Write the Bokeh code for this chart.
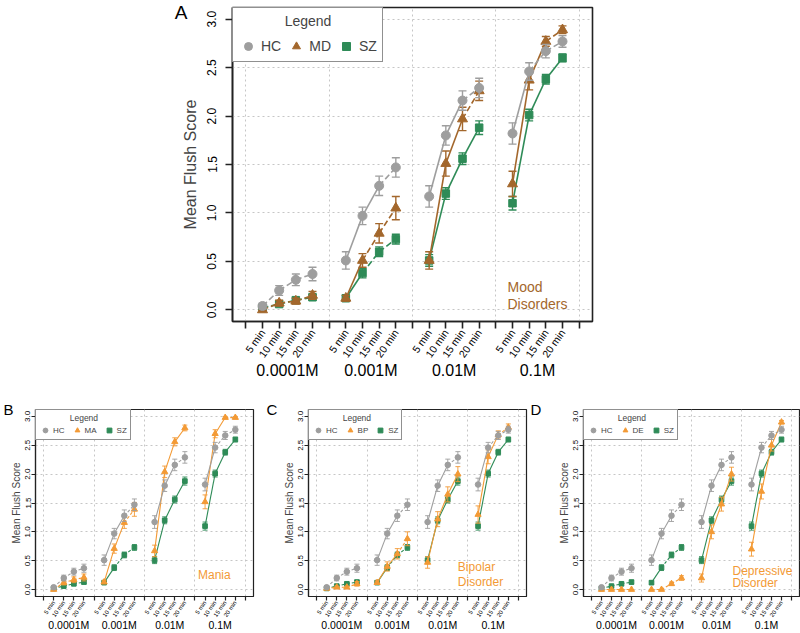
import math
from bokeh.plotting import figure
from bokeh.models import (Range1d, FixedTicker, LinearAxis, PrintfTickFormatter,
                          Legend, LegendItem, ColumnDataSource)
from bokeh.layouts import column, row
from bokeh.embed import file_html
from bokeh.resources import INLINE
from bokeh.core.properties import value

# ---------------- data ----------------
groups = ["0.0001M", "0.001M", "0.01M", "0.1M"]
times = ["5 min", "10 min", "15 min", "20 min"]
yticks = [0.0, 0.5, 1.0, 1.5, 2.0, 2.5, 3.0]

hc_mean = [0.04, 0.20, 0.31, 0.37, 0.51, 0.97, 1.28, 1.47, 1.17, 1.80, 2.16, 2.29, 1.82, 2.46, 2.67, 2.77]
hc_se   = [0.03, 0.05, 0.06, 0.07, 0.09, 0.09, 0.10, 0.10, 0.11, 0.10, 0.10, 0.10, 0.11, 0.09, 0.07, 0.06]
sz_mean = [0.02, 0.06, 0.10, 0.13, 0.12, 0.38, 0.60, 0.73, 0.51, 1.20, 1.56, 1.88, 1.10, 2.01, 2.38, 2.60]
sz_se   = [0.01, 0.02, 0.02, 0.03, 0.03, 0.05, 0.05, 0.05, 0.06, 0.06, 0.06, 0.07, 0.07, 0.06, 0.05, 0.04]
md_mean = [0.00, 0.07, 0.09, 0.15, 0.12, 0.51, 0.79, 1.05, 0.51, 1.51, 1.97, 2.26, 1.30, 2.37, 2.77, 2.89]
md_se   = [0.01, 0.03, 0.03, 0.04, 0.03, 0.07, 0.10, 0.12, 0.09, 0.13, 0.12, 0.10, 0.13, 0.10, 0.05, 0.04]
ma_mean = [0.00, 0.12, 0.17, 0.21, 0.13, 0.71, 1.16, 1.39, 0.67, 2.04, 2.56, 2.80, 1.52, 2.70, 2.98, 2.98]
ma_se   = [0.01, 0.04, 0.05, 0.06, 0.03, 0.08, 0.10, 0.12, 0.10, 0.10, 0.07, 0.05, 0.12, 0.07, 0.02, 0.02]
bp_mean = [0.02, 0.04, 0.04, 0.10, 0.12, 0.40, 0.62, 0.88, 0.47, 1.22, 1.65, 2.00, 1.30, 2.30, 2.68, 2.81]
bp_se   = [0.02, 0.02, 0.02, 0.04, 0.03, 0.08, 0.09, 0.12, 0.10, 0.13, 0.13, 0.13, 0.15, 0.12, 0.07, 0.06]
de_mean = [0.00, 0.00, 0.00, 0.00, 0.00, 0.00, 0.10, 0.20, 0.20, 1.00, 1.48, 2.00, 0.70, 1.70, 2.50, 2.90]
de_se   = [0.00, 0.00, 0.00, 0.00, 0.00, 0.00, 0.03, 0.04, 0.07, 0.12, 0.12, 0.12, 0.12, 0.13, 0.10, 0.03]

panel_letters = ["A", "B", "C", "D"]
legend_title = "Legend"

# ---------------- styles ----------------
GRAY, BROWN, GREEN, ORANGE = "#9E9E9E", "#A3672C", "#2E8B57", "#F39A35"
FONT = "Liberation Sans"
NBSP = "\u00a0"
# per-segment line type for each concentration group: s = solid, d = dashed
SEG = {
    "HC": ["ddd", "ssd", "ssd", "sdd"],
    "SZ": ["ddd", "sdd", "sss", "sss"],
    "MD": ["ddd", "sdd", "ssd", "ssd"],
    "MA": ["ddd", "ssd", "sss", "ssd"],
    "BP": ["ddd", "ssd", "sss", "ssd"],
    "DE": ["ddd", "ddd", "sss", "sss"],
}
X0, X1 = -0.8, 20.8
Y0, Y1 = -0.12, 3.12

BIG = dict(w=600, h=383, bl=232, br=8, bt=7, bb=62, ow=1.6, lw=1.6, ew=1.4, cap=8,
           dash="6 3", ms=1.0, to=7, tf="10.5px", ls=2, ang=55, gf="16px", gs=-5,
           ytf="12px", yst=9, ylf="16px", ylst=6,
           lg_pad=5, lg_gw=20, lg_gh=20, lg_sp=5, lg_st=3, lg_font="14px", lg_title="14px",
           lg_tst=7, lg_indent=12, nf="14px", letter="19px")
SMALL = dict(h=250, bt=26, bb=34, ow=1.2, lw=1.1, ew=0.9, cap=5,
             dash="3 2", ms=0.62, to=4, tf="6px", ls=1, ang=55, gf="10.5px", gs=-4,
             ytf="8px", yst=1, ylf="10px", ylst=1,
             lg_pad=3, lg_gw=12, lg_gh=12, lg_sp=6, lg_st=2, lg_font="8px", lg_title="8.5px",
             lg_tst=1, lg_indent=13, nf="12px", letter="15px")


def xpos():
    n = len(times) + 1
    return [g * n + t + 1 for g in range(len(groups)) for t in range(len(times))]


def letter_axis(S, text, standoff, drop_px):
    """A bare axis whose only tick label is the panel letter."""
    frame_h = S["h"] - S["bt"] - S["bb"]
    t = Y1 - drop_px * (Y1 - Y0) / frame_h
    return LinearAxis(ticker=FixedTicker(ticks=[t]), major_label_overrides={t: text},
                      major_tick_out=0, major_tick_in=0, minor_tick_line_color=None,
                      major_tick_line_color=None, axis_line_color=None,
                      major_label_standoff=standoff, major_label_text_font=FONT,
                      major_label_text_font_size=S["letter"], major_label_text_color="black")


def make_panel(S, series, notes):
    p = figure(width=S["w"], height=S["h"], x_range=Range1d(X0, X1), y_range=Range1d(Y0, Y1),
               output_backend="svg", toolbar_location=None,
               min_border_left=S["bl"], min_border_right=S["br"],
               min_border_top=S["bt"], min_border_bottom=S["bb"])
    p.background_fill_color = "white"
    p.border_fill_color = "white"
    p.outline_line_color = "#222222"
    p.outline_line_width = S["ow"]
    p.outline_line_alpha = 1.0
    xs = xpos()
    nT = len(times)
    nG = len(groups)

    # grid
    p.xgrid.ticker = FixedTicker(ticks=[g * (nT + 1) for g in range(nG + 1)])
    p.ygrid.ticker = FixedTicker(ticks=yticks)
    for gr in (p.xgrid, p.ygrid):
        gr.grid_line_color = "#C6C6C6"
        gr.grid_line_dash = "2 3"
        gr.grid_line_width = 1

    marks = {}
    for name, mean, se, color, marker, msize in series:
        solid = dict(x0=[], y0=[], x1=[], y1=[])
        dashed = dict(x0=[], y0=[], x1=[], y1=[])
        for g in range(nG):
            for t in range(nT - 1):
                i = g * nT + t
                tgt = solid if SEG[name][g][t] == "s" else dashed
                tgt["x0"].append(xs[i]); tgt["y0"].append(mean[i])
                tgt["x1"].append(xs[i + 1]); tgt["y1"].append(mean[i + 1])
        p.segment(x0="x0", y0="y0", x1="x1", y1="y1", source=ColumnDataSource(solid),
                  line_color=color, line_width=S["lw"])
        p.segment(x0="x0", y0="y0", x1="x1", y1="y1", source=ColumnDataSource(dashed),
                  line_color=color, line_width=S["lw"], line_dash=S["dash"])
        ex = [x for x, e in zip(xs, se) if e > 0]
        lo = [m - e for m, e in zip(mean, se) if e > 0]
        hi = [m + e for m, e in zip(mean, se) if e > 0]
        p.segment(x0=ex, y0=lo, x1=ex, y1=hi, line_color=color, line_width=S["ew"])
        p.scatter(x=ex, y=lo, marker="dash", size=S["cap"], line_color=color, line_width=S["ew"])
        p.scatter(x=ex, y=hi, marker="dash", size=S["cap"], line_color=color, line_width=S["ew"])
        r = p.scatter(x=xs, y=mean, marker=marker, size=msize * S["ms"],
                      fill_color=color, line_color=color)
        marks[name] = r

    # x axis with time labels
    xa = p.xaxis[0]
    xa.ticker = FixedTicker(ticks=list(range(nG * (nT + 1) + 1)))
    ov = {k: "" for k in range(nG * (nT + 1) + 1)}
    for i, x in enumerate(xs):
        ov[x] = times[i % nT]
    xa.major_label_overrides = ov
    xa.major_label_orientation = math.radians(S["ang"])
    xa.major_tick_out = S["to"]
    xa.major_tick_in = 0
    xa.minor_tick_line_color = None
    xa.axis_line_color = "#222222"
    xa.axis_line_width = S["ow"]
    xa.major_tick_line_color = "#222222"
    xa.major_tick_line_width = S["ow"]
    xa.major_label_standoff = S["ls"]
    xa.major_label_text_font_size = S["tf"]
    xa.major_label_text_font = FONT
    xa.major_label_text_color = "black"

    # concentration group labels
    gt = [g * (nT + 1) + (nT + 1) / 2 for g in range(nG)]
    ga = LinearAxis(ticker=FixedTicker(ticks=gt),
                    major_label_overrides={t: groups[g] for g, t in enumerate(gt)},
                    major_tick_out=0, major_tick_in=0, minor_tick_line_color=None,
                    major_tick_line_color=None, axis_line_color=None,
                    major_label_standoff=S["gs"], major_label_text_font_size=S["gf"],
                    major_label_text_font=FONT, major_label_text_color="black")
    p.add_layout(ga, "below")

    # y axis
    ya = p.yaxis[0]
    ya.ticker = FixedTicker(ticks=yticks)
    ya.formatter = PrintfTickFormatter(format="%.1f")
    ya.major_label_orientation = "vertical"
    ya.major_tick_out = S["to"]
    ya.major_tick_in = 0
    ya.minor_tick_line_color = None
    ya.axis_line_color = "#222222"
    ya.axis_line_width = S["ow"]
    ya.major_tick_line_color = "#222222"
    ya.major_tick_line_width = S["ow"]
    ya.major_label_standoff = S["yst"]
    ya.major_label_text_font_size = S["ytf"]
    ya.major_label_text_font = FONT
    ya.major_label_text_color = "black"
    ya.axis_label = "Mean Flush Score"
    ya.axis_label_text_font = FONT
    ya.axis_label_text_font_size = S["ylf"]
    ya.axis_label_text_font_style = "normal"
    ya.axis_label_standoff = S["ylst"]

    # legend (title indented with no-break spaces so that it sits centred)
    order = [series[2], series[1], series[0]]
    items = [LegendItem(label=s[0], renderers=[marks[s[0]]]) for s in order]
    lg = Legend(items=items, title=NBSP * S["lg_indent"] + legend_title,
                orientation="horizontal", location="top_left",
                margin=0, padding=S["lg_pad"], spacing=S["lg_sp"],
                glyph_width=S["lg_gw"], glyph_height=S["lg_gh"],
                label_height=S["lg_gh"], label_width=0, label_standoff=S["lg_st"],
                label_text_font=FONT, label_text_font_size=S["lg_font"],
                title_text_font=FONT, title_text_font_size=S["lg_title"],
                title_text_font_style="normal", title_standoff=S["lg_tst"],
                border_line_color="#222222", border_line_width=S["ow"],
                background_fill_color="white", background_fill_alpha=1.0)
    p.add_layout(lg)

    # annotation text
    txt, color, nx, nys = notes
    p.text(x=[nx] * len(txt), y=nys, text=txt, text_font=value(FONT),
           text_font_size=S["nf"], text_color=color, text_baseline="alphabetic",
           text_align="left")
    return p


pA = make_panel(BIG,
                [("SZ", sz_mean, sz_se, GREEN, "square", 7.5),
                 ("MD", md_mean, md_se, BROWN, "triangle", 10),
                 ("HC", hc_mean, hc_se, GRAY, "circle", 9)],
                (["Mood", "Disorders"], BROWN, 15.7, [0.238, 0.065]))
pA.add_layout(letter_axis(BIG, panel_letters[0], -9, 2), "left")

SB = dict(SMALL, w=280, bl=35, br=27)
SC = dict(SMALL, w=275, bl=27, br=29)
SD = dict(SMALL, w=245, bl=26, br=1)

pB = make_panel(SB,
                [("SZ", sz_mean, sz_se, GREEN, "square", 7.5),
                 ("MA", ma_mean, ma_se, ORANGE, "triangle", 10),
                 ("HC", hc_mean, hc_se, GRAY, "circle", 9)],
                (["Mania"], ORANGE, 15.3, [0.25]))
pC = make_panel(SC,
                [("SZ", sz_mean, sz_se, GREEN, "square", 7.5),
                 ("BP", bp_mean, bp_se, ORANGE, "triangle", 10),
                 ("HC", hc_mean, hc_se, GRAY, "circle", 9)],
                (["Bipolar", "Disorder"], ORANGE, 14.0, [0.39, 0.13]))
pD = make_panel(SD,
                [("SZ", sz_mean, sz_se, GREEN, "square", 7.5),
                 ("DE", de_mean, de_se, ORANGE, "triangle", 10),
                 ("HC", hc_mean, hc_se, GRAY, "circle", 9)],
                (["Depressive", "Disorder"], ORANGE, 14.1, [0.32, 0.11]))

# panel letters B (left of B), C (right border of B), D (right border of C)
pB.add_layout(letter_axis(SB, panel_letters[1], -6, 0), "left")
pB.add_layout(letter_axis(SB, panel_letters[2], 13, 0), "right")
pC.add_layout(letter_axis(SC, panel_letters[3], 4, 0), "right")

layout = column(row(pA), row(pB, pC, pD))
open("out.html", "w").write(file_html(layout, INLINE))
